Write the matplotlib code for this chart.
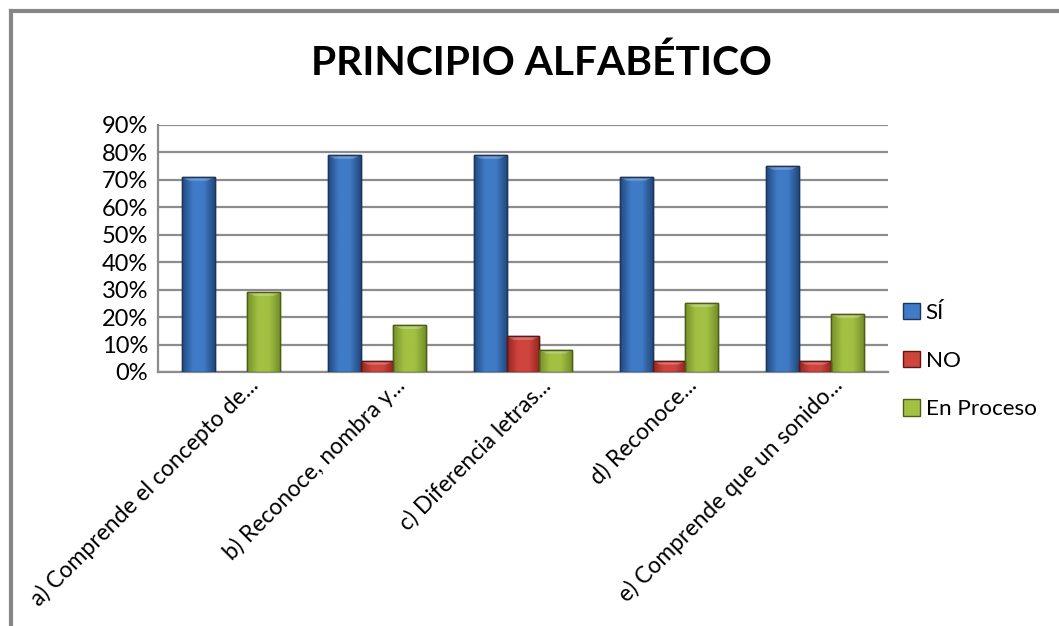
import matplotlib
matplotlib.use("Agg")
import matplotlib.pyplot as plt
import numpy as np
from matplotlib.lines import Line2D
from matplotlib.colors import LinearSegmentedColormap
import matplotlib.transforms as mtransforms

categories = ["a) Comprende el concepto de...", "b) Reconoce, nombra y...",
              "c) Diferencia letras...", "d) Reconoce...",
              "e) Comprende que un sonido..."]
series_names = ["SÍ", "NO", "En Proceso"]
si = [71, 79, 79, 71, 75]
no = [0, 4, 13, 4, 4]
en_proceso = [29, 17, 8, 25, 21]
yticks = [0, 10, 20, 30, 40, 50, 60, 70, 80, 90]

colors = {
    "SÍ": ("#23497f", "#3f7bc6", "#1b365c"),
    "NO": ("#96251f", "#cf443d", "#5e1714"),
    "En Proceso": ("#76902a", "#a2c143", "#4c5e17"),
}

plt.rcParams['font.family'] = ['Lato', 'DejaVu Sans']

fig = plt.figure(figsize=(10.59, 6.26), dpi=100)
ax = fig.add_axes([158/1059, 1-372/626, 730/1059, 247/626])

x = np.arange(len(categories))
w = 0.226
data = [si, no, en_proceso]
for i, (name, vals) in enumerate(zip(series_names, data)):
    dark, light, edge = colors[name]
    bars = ax.bar(x + (i - 1) * w, vals, width=w, color=light, edgecolor=edge,
                  linewidth=1.0, zorder=3, label=name)
    cmap = LinearSegmentedColormap.from_list(name, [dark, light, light, dark])
    grad = np.linspace(0, 1, 64).reshape(1, -1)
    for b in bars:
        h = b.get_height()
        if h <= 0:
            continue
        x0, y0 = b.get_x(), b.get_y()
        bw = b.get_width()
        im = ax.imshow(grad, cmap=cmap, aspect='auto', zorder=3.5,
                       extent=[x0, x0 + bw, y0, y0 + h], interpolation='bicubic')
        im.set_clip_path(b)
        bev = min(1.3, h * 0.4)
        ax.fill([x0, x0 + bw, x0 + bw * 0.78, x0 + bw * 0.22],
                [y0 + h, y0 + h, y0 + h - bev, y0 + h - bev],
                color="white", alpha=0.25, zorder=3.7, linewidth=0)
        ax.add_patch(plt.Rectangle((x0, y0), bw, h, fill=False, edgecolor=edge,
                                   linewidth=1.0, zorder=3.8))

ax.set_xlim(-0.5, len(categories) - 0.5)
ax.set_ylim(0, 90)
ax.set_yticks(yticks)
ax.set_yticklabels([f"{v}%" for v in yticks], fontsize=17)
ax.yaxis.grid(True, color="#8c8c8c", linewidth=1.6, zorder=0)
ax.set_axisbelow(True)
for s in ["top", "right"]:
    ax.spines[s].set_visible(False)
ax.spines["left"].set_color("#8c8c8c")
ax.spines["left"].set_linewidth(1.6)
ax.spines["bottom"].set_color("#8c8c8c")
ax.spines["bottom"].set_linewidth(1.6)
ax.tick_params(axis='y', length=0, pad=7)
ax.tick_params(axis='x', length=0)
ax.set_xticks(x)
offset = mtransforms.ScaledTranslation(24/100, -5/100, fig.dpi_scale_trans)
ax.set_xticklabels(categories, rotation=45, ha='right', va='center',
                   rotation_mode='anchor', fontsize=16.5)
for lab in ax.get_xticklabels():
    lab.set_transform(lab.get_transform() + offset)

fig.text(541/1059, 1-63/626, "PRINCIPIO ALFABÉTICO", ha='center', va='center',
         fontsize=29.3, fontweight='bold')

handles = [plt.Rectangle((0, 0), 1, 1, facecolor=colors[n][1], edgecolor=colors[n][2])
           for n in series_names]
fig.legend(handles, series_names, loc='center left',
           bbox_to_anchor=(883/1059, 1-361/626), frameon=False, fontsize=16.2,
           handlelength=0.75, handleheight=0.75, handletextpad=0.25,
           labelspacing=1.25)

fig.add_artist(Line2D([11/1059, 1], [1-11/626, 1-11/626], color="#868686",
                      linewidth=3, transform=fig.transFigure))
fig.add_artist(Line2D([11/1059, 11/1059], [0, 1-11/626], color="#868686",
                      linewidth=3, transform=fig.transFigure))

fig.savefig("out.png", dpi=100)
